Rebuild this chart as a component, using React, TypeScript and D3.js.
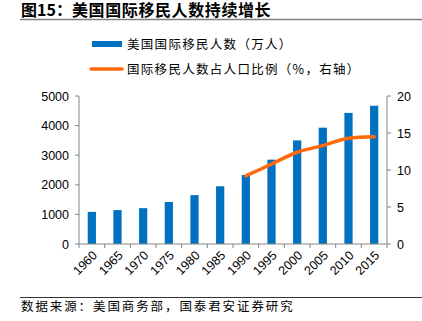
import React from "react";
import * as d3 from "d3";

const years = ["1960","1965","1970","1975","1980","1985","1990","1995","2000","2005","2010","2015"];
const migrants = [1085, 1145, 1210, 1420, 1650, 1950, 2330, 2850, 3500, 3930, 4430, 4670];
const shareYears = ["1990","1995","2000","2005","2010","2015"];
const shareValues = [9.2, 10.8, 12.4, 13.3, 14.3, 14.5];
const leftTicks = [0, 1000, 2000, 3000, 4000, 5000];
const rightTicks = [0, 5, 10, 15, 20];

const titleLabel = "图15：";
const titleText = "美国国际移民人数持续增长";
const legendBar = "美国国际移民人数（万人）";
const legendLine = "国际移民人数占人口比例（%，右轴）";
const source = "数据来源：美国商务部，国泰君安证券研究";

const W = 422, H = 321;
const left = 79, right = 387, top = 96, bottom = 244;
const BLUE = "#0070C0", ORANGE = "#FF6A0D", AXIS = "#868686";
const cjk = '"Noto Sans CJK SC", sans-serif';
const num = '"Liberation Sans", Arial, sans-serif';

export default function App() {
  const x = d3.scaleBand<string>().domain(years).range([left, right]).paddingInner(0.68).paddingOuter(0.34);
  const step = x.step();
  const center = (y: string) => (x(y) as number) + x.bandwidth() / 2;
  const yL = d3.scaleLinear().domain([0, 5000]).range([bottom, top]);
  const yR = d3.scaleLinear().domain([0, 20]).range([bottom, top]);
  const line = d3.line<number>().x((_, i) => center(shareYears[i])).y(d => yR(d)).curve(d3.curveMonotoneX);

  return (
    <svg width={W} height={H} style={{ position: "absolute", left: 0, top: 0 }}>
      <rect width={W} height={H} fill="#fff" />
      <text y={16} fontFamily={cjk} fontWeight="bold" fontSize={16} fill="#000">
        <tspan x={21}>{titleLabel}</tspan>
        <tspan x={72} letterSpacing={0.6}>{titleText}</tspan>
      </text>
      <line x1={20} x2={422} y1={19.5} y2={19.5} stroke="#808080" strokeWidth={1.5} />

      <rect x={92} y={41} width={30} height={6} fill={BLUE} />
      <text x={127} y={48.5} fontFamily={cjk} fontSize={12.5} letterSpacing={1.3} fill="#000">{legendBar}</text>
      <line x1={91} x2={122} y1={69} y2={69} stroke={ORANGE} strokeWidth={3.5} strokeLinecap="round" />
      <text x={127} y={73.5} fontFamily={cjk} fontSize={12.5} letterSpacing={1.3} fill="#000">{legendLine}</text>

      {years.map((yr, i) => (
        <rect key={yr} x={x(yr)} y={yL(migrants[i])} width={x.bandwidth()} height={bottom - yL(migrants[i])} fill={BLUE} />
      ))}

      <line x1={left} x2={left} y1={top} y2={bottom} stroke={AXIS} />
      {leftTicks.map(t => (
        <g key={t}>
          <line x1={left - 4} x2={left} y1={yL(t)} y2={yL(t)} stroke={AXIS} />
          <text x={left - 10} y={yL(t) + 4.5} textAnchor="end" fontFamily={num} fontSize={12.5} fill="#000">{t}</text>
        </g>
      ))}

      <line x1={right} x2={right} y1={top} y2={bottom} stroke={AXIS} />
      {rightTicks.map(t => (
        <g key={t}>
          <line x1={right} x2={right + 4} y1={yR(t)} y2={yR(t)} stroke={AXIS} />
          <text x={right + 10} y={yR(t) + 4.5} textAnchor="start" fontFamily={num} fontSize={12.5} fill="#000">{t}</text>
        </g>
      ))}

      <line x1={left} x2={right} y1={bottom} y2={bottom} stroke={AXIS} />
      {d3.range(years.length + 1).map(i => (
        <line key={i} x1={left + i * step} x2={left + i * step} y1={bottom} y2={bottom + 4} stroke={AXIS} />
      ))}
      {years.map(yr => (
        <text key={yr} transform={`translate(${center(yr) + 3},${bottom + 9}) rotate(-45)`} textAnchor="end" fontFamily={num} fontSize={12.5} fill="#000" dy="0.35em">{yr}</text>
      ))}

      <path d={line(shareValues) || ""} fill="none" stroke={ORANGE} strokeWidth={3.5} strokeLinecap="round" strokeLinejoin="round" />

      <line x1={20} x2={422} y1={297.5} y2={297.5} stroke="#333" strokeWidth={1} />
      <text x={21} y={311} fontFamily={cjk} fontSize={12.5} letterSpacing={1.9} fill="#000">{source}</text>
    </svg>
  );
}
